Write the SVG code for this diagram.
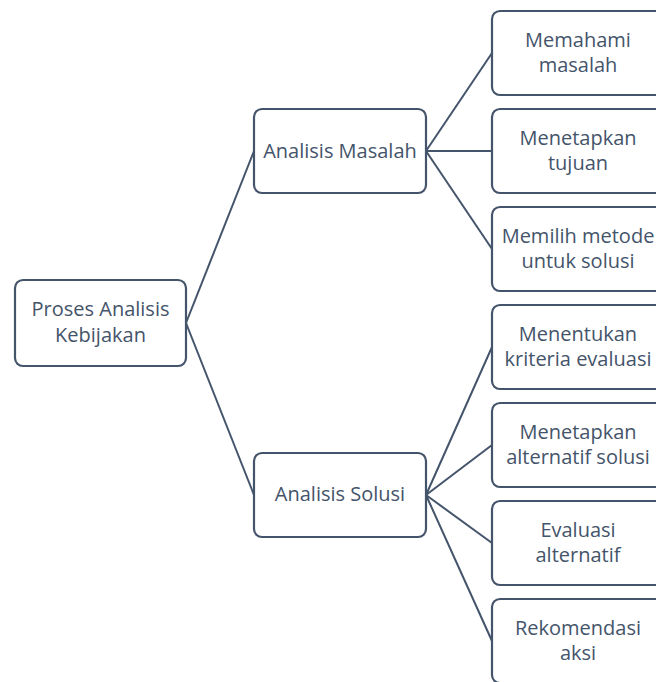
<svg xmlns="http://www.w3.org/2000/svg" width="656" height="682" viewBox="0 0 656 682">
<style>
.box{fill:#ffffff;stroke:#44546A;stroke-width:2.2}
.lbl{font-family:"Open Sans","Noto Sans",sans-serif;font-size:20px;fill:#44546A;text-anchor:middle}
.con{stroke:#44546A;stroke-width:2;fill:none}
</style>
<rect width="656" height="682" fill="#ffffff"/>
<g id="connectors" class="con">
<line x1="186" y1="323" x2="254" y2="151"/>
<line x1="186" y1="323" x2="254" y2="495"/>
<line x1="426" y1="151" x2="492" y2="53"/>
<line x1="426" y1="151" x2="492" y2="151"/>
<line x1="426" y1="151" x2="492" y2="249"/>
<line x1="426" y1="495" x2="492" y2="347"/>
<line x1="426" y1="495" x2="492" y2="445"/>
<line x1="426" y1="495" x2="492" y2="543"/>
<line x1="426" y1="495" x2="492" y2="641"/>
</g>
<g id="root">
<rect class="box" x="15" y="280" width="171" height="86" rx="8"/>
<text class="lbl" x="100.5" y="316">Proses Analisis</text>
<text class="lbl" x="100.5" y="342">Kebijakan</text>
</g>
<g id="analisis-masalah">
<rect class="box" x="254" y="109" width="172" height="84" rx="8"/>
<text class="lbl" x="340" y="158">Analisis Masalah</text>
</g>
<g id="analisis-solusi">
<rect class="box" x="254" y="453" width="172" height="84" rx="8"/>
<text class="lbl" x="340" y="501">Analisis Solusi</text>
</g>
<g id="memahami">
<rect class="box" x="492" y="11" width="172" height="84" rx="8"/>
<text class="lbl" x="578" y="47">Memahami</text>
<text class="lbl" x="578" y="72">masalah</text>
</g>
<g id="menetapkan-tujuan">
<rect class="box" x="492" y="109" width="172" height="84" rx="8"/>
<text class="lbl" x="578" y="145">Menetapkan</text>
<text class="lbl" x="578" y="170">tujuan</text>
</g>
<g id="memilih-metode">
<rect class="box" x="492" y="207" width="172" height="84" rx="8"/>
<text class="lbl" x="578" y="243">Memilih metode</text>
<text class="lbl" x="578" y="268">untuk solusi</text>
</g>
<g id="menentukan-kriteria">
<rect class="box" x="492" y="305" width="172" height="84" rx="8"/>
<text class="lbl" x="578" y="341">Menentukan</text>
<text class="lbl" x="578" y="366">kriteria evaluasi</text>
</g>
<g id="menetapkan-alternatif">
<rect class="box" x="492" y="403" width="172" height="84" rx="8"/>
<text class="lbl" x="578" y="439">Menetapkan</text>
<text class="lbl" x="578" y="464">alternatif solusi</text>
</g>
<g id="evaluasi-alternatif">
<rect class="box" x="492" y="501" width="172" height="84" rx="8"/>
<text class="lbl" x="578" y="537">Evaluasi</text>
<text class="lbl" x="578" y="562">alternatif</text>
</g>
<g id="rekomendasi-aksi">
<rect class="box" x="492" y="599" width="172" height="84" rx="8"/>
<text class="lbl" x="578" y="635">Rekomendasi</text>
<text class="lbl" x="578" y="660">aksi</text>
</g>
</svg>
